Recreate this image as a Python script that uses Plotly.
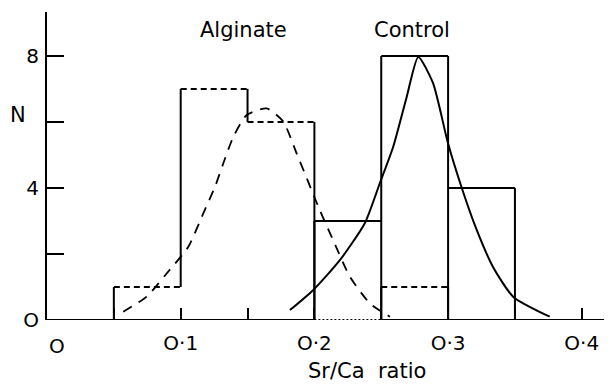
import plotly.graph_objects as go

# ---- data ----
alg_edges = [0.05, 0.10, 0.15, 0.20, 0.25, 0.30]
alg_counts = [1, 7, 6, 0, 1]
ctl_edges = [0.20, 0.25, 0.30, 0.35]
ctl_counts = [3, 8, 4]

ctl_curve_x = [0.1817, 0.1992, 0.2192, 0.2378, 0.249, 0.2589, 0.269, 0.2777,
               0.2887, 0.2999, 0.310, 0.3214, 0.3337, 0.3488, 0.376]
ctl_curve_y = [0.30, 0.91, 1.82, 2.94, 4.15, 5.24, 6.75, 7.97,
               7.18, 5.36, 4.03, 2.73, 1.6, 0.7, 0.1]

alg_curve_x = [0.057, 0.0746, 0.0895, 0.1057, 0.1169, 0.1257, 0.1319, 0.1394, 0.1494,
               0.1643, 0.1767, 0.1867, 0.204, 0.214, 0.2266, 0.2416, 0.2565]
alg_curve_y = [0.25, 0.71, 1.41, 2.22, 3.23, 4.04, 4.75, 5.55, 6.21,
               6.41, 6.01, 5.05, 3.33, 2.42, 1.31, 0.5, 0.1]

x_tickvals = [0.05, 0.10, 0.15, 0.20, 0.25, 0.30, 0.35, 0.40]
x_ticktext = ["", "O·1", "", "O·2", "", "O·3", "", "O·4"]
y_tickvals = [0, 2, 4, 6, 8]
y_ticktext = ["O", "", "4", "", "8"]

X_MAX = 0.4226
Y_MAX = 9.33
FONT = "DejaVu Sans"
LW = 2

fig = go.Figure()


def add_line(xs, ys, dash="solid", width=LW):
    fig.add_trace(go.Scatter(x=xs, y=ys, mode="lines", showlegend=False,
                             hoverinfo="skip",
                             line=dict(color="black", width=width, dash=dash)))


# baseline: solid except across zero-count alginate bins (dotted)
zero_bins = [(alg_edges[i], alg_edges[i + 1]) for i, c in enumerate(alg_counts) if c == 0]
bx, by = [0], [0]
for (a, b) in zero_bins:
    bx += [a, None, b]
    by += [0, None, 0]
bx.append(X_MAX)
by.append(0)
add_line(bx, by)
zx, zy = [], []
for (a, b) in zero_bins:
    zx += [a, b, None]
    zy += [0, 0, None]
add_line(zx, zy, dash="2px,2px")

# alginate histogram: dashed tops, solid verticals between neighbouring heights
tx, ty = [], []
for i, c in enumerate(alg_counts):
    if c > 0:
        tx += [alg_edges[i], alg_edges[i + 1], None]
        ty += [c, c, None]
add_line(tx, ty, dash="6px,4px")
vx, vy = [], []
padded = [0] + alg_counts + [0]
for j, e in enumerate(alg_edges):
    lo, hi = min(padded[j], padded[j + 1]), max(padded[j], padded[j + 1])
    if hi > lo:
        vx += [e, e, None]
        vy += [lo, hi, None]
add_line(vx, vy)

# control histogram: solid outline
cx, cy = [], []
for i, c in enumerate(ctl_counts):
    cx += [ctl_edges[i], ctl_edges[i + 1], None]
    cy += [c, c, None]
cpad = [0] + ctl_counts + [0]
for j, e in enumerate(ctl_edges):
    hi = max(cpad[j], cpad[j + 1])
    cx += [e, e, None]
    cy += [0, hi, None]
add_line(cx, cy)

# fitted curves
fig.add_trace(go.Scatter(x=alg_curve_x, y=alg_curve_y, mode="lines", showlegend=False,
                         hoverinfo="skip",
                         line=dict(color="black", width=1.8, dash="10px,8px",
                                   shape="spline", smoothing=0.6)))
fig.add_trace(go.Scatter(x=ctl_curve_x, y=ctl_curve_y, mode="lines", showlegend=False,
                         hoverinfo="skip",
                         line=dict(color="black", width=LW, shape="spline", smoothing=0.6)))

tick_font = dict(family=FONT, size=20, color="black")

fig.update_xaxes(range=[0, X_MAX], showgrid=False, zeroline=False, showline=False,
                 automargin=False,
                 tickvals=x_tickvals, ticktext=x_ticktext, ticks="inside", ticklen=12,
                 tickwidth=LW, tickcolor="black", tickfont=tick_font, ticklabelstandoff=9)
fig.update_yaxes(range=[0, Y_MAX], showgrid=False, zeroline=False, showline=True,
                 automargin=False,
                 linecolor="black", linewidth=LW,
                 tickvals=y_tickvals, ticktext=y_ticktext, ticks="inside", ticklen=17,
                 tickwidth=LW, tickcolor="black", tickfont=tick_font, ticklabelstandoff=2)

ann_font = dict(family=FONT, size=21, color="black")
fig.add_annotation(x=0.0075, y=0, xref="x", yref="y", yshift=-26, text="O",
                   xanchor="center", yanchor="middle", showarrow=False, font=tick_font)
fig.add_annotation(x=0.1466, y=8.79, xref="x", yref="y", text="Alginate",
                   xanchor="center", yanchor="middle", showarrow=False, font=ann_font)
fig.add_annotation(x=0.273, y=8.79, xref="x", yref="y", text="Control",
                   xanchor="center", yanchor="middle", showarrow=False, font=ann_font)
fig.add_annotation(x=-0.0513, y=6.2, xref="paper", yref="y", text="N",
                   xanchor="center", yanchor="middle", showarrow=False, font=ann_font)
fig.add_annotation(x=0.2394, y=-0.165, xref="x", yref="paper", text="Sr/Ca\u00a0\u00a0ratio",
                   xanchor="center", yanchor="middle", showarrow=False, font=ann_font)

# page body adds an 8px offset; margins compensate so the axes land where the reference has them
fig.update_layout(width=604, height=376, margin=dict(l=39, r=0, t=4, b=64),
                  plot_bgcolor="white", paper_bgcolor="white")

fig.write_html("out.html")
